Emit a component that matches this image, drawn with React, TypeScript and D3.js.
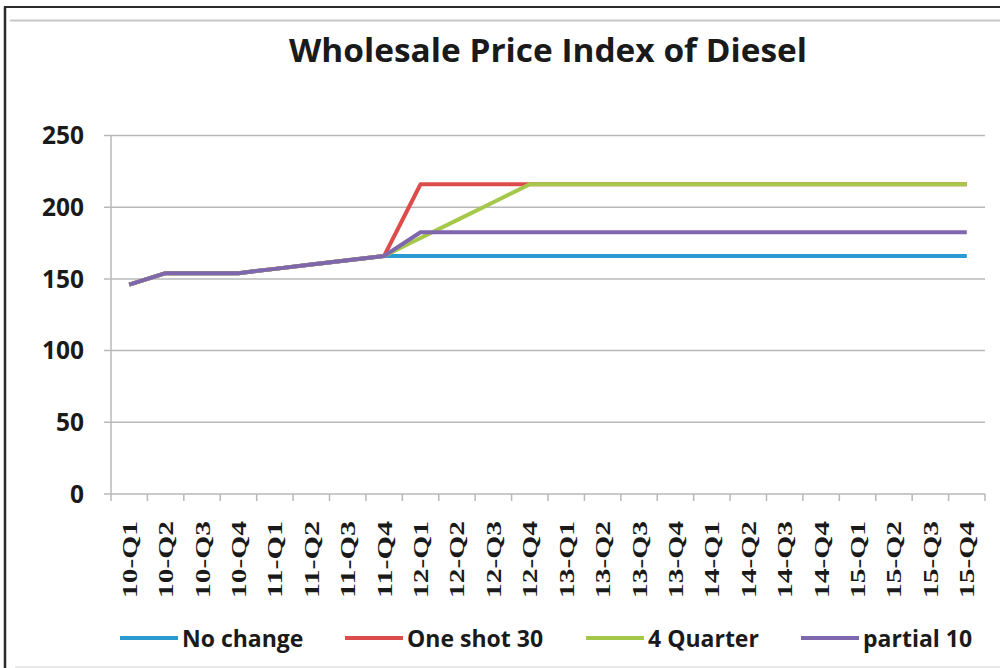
import { scaleBand, scaleLinear, line } from "d3";

const quarters = [
  "10-Q1", "10-Q2", "10-Q3", "10-Q4",
  "11-Q1", "11-Q2", "11-Q3", "11-Q4",
  "12-Q1", "12-Q2", "12-Q3", "12-Q4",
  "13-Q1", "13-Q2", "13-Q3", "13-Q4",
  "14-Q1", "14-Q2", "14-Q3", "14-Q4",
  "15-Q1", "15-Q2", "15-Q3", "15-Q4",
];

const noChange = [
  146, 154, 154, 154, 157, 160, 163, 166,
  166, 166, 166, 166, 166, 166, 166, 166,
  166, 166, 166, 166, 166, 166, 166, 166,
];
const oneShot30 = [
  146, 154, 154, 154, 157, 160, 163, 166,
  216, 216, 216, 216, 216, 216, 216, 216,
  216, 216, 216, 216, 216, 216, 216, 216,
];
const fourQuarter = [
  146, 154, 154, 154, 157, 160, 163, 166,
  178.5, 191, 203.5, 216, 216, 216, 216, 216,
  216, 216, 216, 216, 216, 216, 216, 216,
];
const partial10 = [
  146, 154, 154, 154, 157, 160, 163, 166,
  182.5, 182.5, 182.5, 182.5, 182.5, 182.5, 182.5, 182.5,
  182.5, 182.5, 182.5, 182.5, 182.5, 182.5, 182.5, 182.5,
];

const yTicks = [0, 50, 100, 150, 200, 250];

const series = [
  { name: "No change", values: noChange, color: "#2a9ad0" },
  { name: "One shot 30", values: oneShot30, color: "#dd4b4b" },
  { name: "4 Quarter", values: fourQuarter, color: "#a5c84a" },
  { name: "partial 10", values: partial10, color: "#7f67ae" },
];

const legendX = [120, 345, 586, 801];

const width = 1000;
const height = 668;
const plot = { left: 111, right: 985, top: 135.5, bottom: 494 };

const App = () => {
  const xScale = scaleBand()
    .domain(quarters)
    .range([plot.left, plot.right]);
  const yScale = scaleLinear()
    .domain([0, 250])
    .range([plot.bottom, plot.top]);

  const lineGen = line<number>()
    .x((d, i) => xScale(quarters[i])! + xScale.bandwidth() / 2)
    .y((d) => yScale(d));

  const font = "'Open Sans', 'DejaVu Sans', sans-serif";

  return (
    <svg
      width={width}
      height={height}
      style={{ position: "absolute", left: 0, top: 0, background: "#fff" }}
    >
      {/* frame */}
      <line x1={4} x2={width} y1={7} y2={7} stroke="#2b2b2b" strokeWidth={2} />
      <line x1={5} x2={5} y1={7} y2={height} stroke="#2b2b2b" strokeWidth={2.5} />
      <line x1={10} x2={width} y1={20.5} y2={20.5} stroke="#c8c8c8" strokeWidth={2} />
      <line x1={15} x2={width} y1={667} y2={667} stroke="#e2e2e2" strokeWidth={1.5} />

      <text
        x={548}
        y={62}
        textAnchor="middle"
        fontFamily={font}
        fontWeight="bold"
        fontSize={33}
        fill="#1a1a1a"
        textLength={518}
        lengthAdjust="spacingAndGlyphs"
      >
        Wholesale Price Index of Diesel
      </text>

      {/* grid + y labels */}
      {yTicks.map((t) => (
        <g key={t}>
          <line
            x1={plot.left - 7}
            x2={plot.right}
            y1={yScale(t)}
            y2={yScale(t)}
            stroke="#b8b8b8"
            strokeWidth={1.5}
          />
          <text
            x={84}
            y={yScale(t)}
            dy="0.36em"
            textAnchor="end"
            fontFamily={font}
            fontWeight="bold"
            fontSize={24.5}
            fill="#1a1a1a"
          >
            {t}
          </text>
        </g>
      ))}
      <line
        x1={plot.left}
        x2={plot.left}
        y1={plot.top}
        y2={plot.bottom + 7}
        stroke="#b8b8b8"
        strokeWidth={1.5}
      />

      {/* x ticks + labels */}
      {quarters.map((q, i) => (
        <g key={q}>
          <line
            x1={xScale(q)! + xScale.bandwidth()}
            x2={xScale(q)! + xScale.bandwidth()}
            y1={plot.bottom}
            y2={plot.bottom + 7}
            stroke="#b8b8b8"
            strokeWidth={1.5}
          />
          <text
            transform={`translate(${xScale(q)! + xScale.bandwidth() / 2 + 7.5},521) rotate(-90)`}
            textAnchor="end"
            fontFamily="'Liberation Serif', serif"
            fontWeight="bold"
            fontSize={22}
            fill="#1a1a1a"
            textLength={77}
            lengthAdjust="spacingAndGlyphs"
          >
            {q}
          </text>
        </g>
      ))}

      {/* lines */}
      {series.map((s) => (
        <path
          key={s.name}
          d={lineGen(s.values) ?? ""}
          fill="none"
          stroke={s.color}
          strokeWidth={4}
          strokeLinejoin="round"
        />
      ))}

      {/* legend */}
      {series.map((s, i) => (
        <g key={s.name} transform={`translate(${legendX[i]},638)`}>
          <line x1={0} x2={58} y1={0} y2={0} stroke={s.color} strokeWidth={4} />
          <text
            x={62}
            y={9}
            fontFamily={font}
            fontWeight="bold"
            fontSize={23}
            fill="#1a1a1a"
          >
            {s.name}
          </text>
        </g>
      ))}
    </svg>
  );
};

export default App;
